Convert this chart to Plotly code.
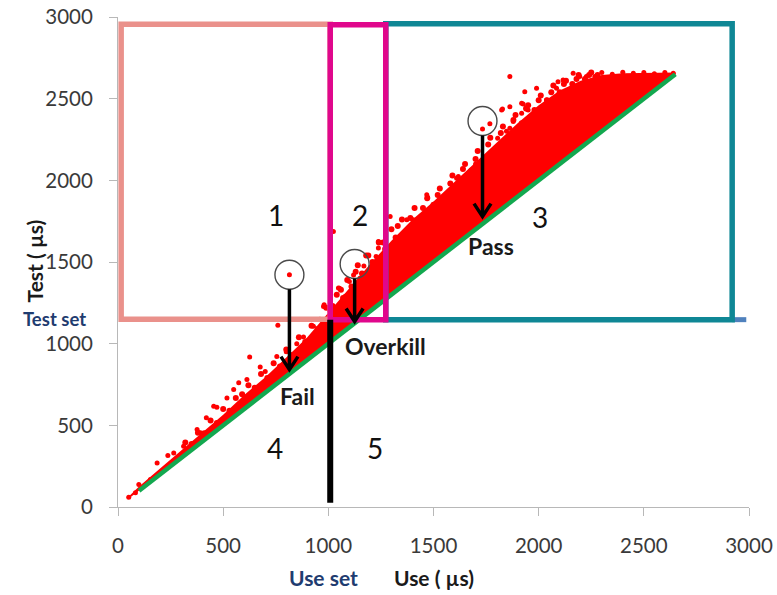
import plotly.graph_objects as go

# ---- data -----------------------------------------------------------------
# Upper edge of the dense part of the measurement cloud (use, test) in µs
band_use = [50, 100, 200, 300, 400, 500, 600, 700, 800, 900, 1000, 1100, 1200,
            1300, 1400, 1500, 1600, 1700, 1800, 1900, 2000, 2100, 2200, 2300,
            2400, 2650]
band_test = [62, 125, 235, 345, 450, 565, 685, 795, 915, 1040, 1190, 1340, 1490,
             1630, 1760, 1870, 1990, 2110, 2230, 2350, 2460, 2550, 2610, 2645,
             2655, 2660]

# Ragged edge of the dense part
edge_use = [320, 350, 380, 410, 440, 470, 500, 530, 560, 590, 620, 650, 680,
            710, 740, 770, 800, 830, 860, 890, 920, 950, 990, 1010, 1040, 1070,
            1090, 1110, 1140, 1160, 1180, 1210, 1240, 1270, 1300, 1320, 1350,
            1380, 1410, 1440, 1470, 1500, 1530, 1560, 1590, 1620, 1650, 1680,
            1710, 1740, 1770, 1800, 1830, 1860, 1890, 1920, 1950, 1980, 2010,
            2040, 2070, 2100, 2130, 2160, 2190, 2220, 2250, 2280,
            1020, 1060, 1130, 1190, 1260, 1330, 1390, 1450, 1520, 1580, 1640,
            1700, 1760, 1820, 1880, 1940, 2000, 2060, 2120, 2180, 2240]
edge_test = [395, 385, 455, 452, 530, 515, 600, 590, 668, 690, 745, 730, 815,
             790, 880, 860, 965, 930, 1040, 1010, 1110, 1090, 1220, 1200, 1300,
             1280, 1390, 1350, 1480, 1430, 1540, 1500, 1620, 1580, 1700, 1650,
             1760, 1700, 1830, 1770, 1890, 1850, 1950, 1900, 2030, 1970, 2100,
             2060, 2180, 2120, 2260, 2200, 2330, 2270, 2400, 2350, 2460, 2430,
             2520, 2490, 2580, 2540, 2610, 2590, 2645, 2620, 2660, 2645,
             1230, 1330, 1440, 1540, 1620, 1720, 1770, 1830, 1910, 1980, 2070,
             2130, 2220, 2290, 2370, 2440, 2490, 2540, 2590, 2620, 2645]

# Individual measurements scattered around the dense part
pts_use = [51, 83, 99, 154, 186, 237, 265, 312, 376, 392, 420, 455, 470, 518,
           550, 574, 613, 626, 676, 700, 755, 760, 800, 815, 850, 882, 929, 960,
           977, 980,
           1024, 1048, 1053, 1080, 1100, 1120, 1150, 1169, 1191, 1207, 1227,
           1238, 1238, 1260, 1294, 1325, 1341,
           1373, 1404, 1428, 1463, 1468, 1472, 1515, 1540, 1594, 1610, 1618,
           1641, 1700, 1733, 1768, 1776, 1805, 1824, 1828, 1847, 1863, 1863,
           1863, 1879, 1919, 1919, 1926, 1934, 1942, 1950, 1990, 2006, 2037,
           2085, 2092, 2116, 2164, 2195, 2227, 2267, 2300, 2350, 2400, 2450,
           2500, 2550, 2600, 2640]
pts_test = [60, 87, 138, 168, 270, 315, 331, 372, 474, 454, 546, 617, 610, 668,
            719, 760, 780, 918, 857, 830, 922, 1112, 950, 1422, 1000, 1041, 1106,
            1150, 1228, 1239,
            1687, 1341, 1340, 1290, 1380, 1420, 1400, 1476, 1432, 1473, 1534,
            1585, 1626, 1500, 1779, 1626, 1656,
            1758, 1758, 1728, 1600, 1911, 1897, 1840, 1800, 1911, 2013, 2023,
            1952, 2100, 2315, 2346, 2146, 2258, 2431, 2437, 2300, 2451, 2319,
            2635, 2360, 2472, 2411, 2468, 2543, 2437, 2431, 2564, 2401, 2492,
            2564, 2604, 2615, 2656, 2635, 2635, 2635, 2660, 2650, 2662, 2655,
            2660, 2652, 2660, 2655]

# Test = Use reference diagonal
diag_use = [100, 2650]
diag_test = [100, 2650]

# Region boxes (x0, x1, y0, y1) and colours
boxes = [
    (15, 1009, 1150, 2955, "#ea918b"),   # region 1
    (1273, 2920, 1147, 2958, "#0f8795"),  # region 3
    (1009, 1273, 1147, 2952, "#e0078c"),  # region 2
]
use_set = 1009
test_set = 1147

region_labels = ["1", "2", "3", "4", "5"]
region_x = [752, 1151, 2006, 748, 1222]
region_y = [1789, 1789, 1776, 364, 364]

# Highlighted samples: circle centre and arrow end
call_names = ["Fail", "Overkill", "Pass"]
call_x = [815, 1125, 1733]
call_y = [1422, 1488, 2363]
call_tip = [841, 1136, 1778]
call_text_x = [854, 1270, 1771]
call_text_y = [682, 985, 1596]

ticks = [0, 500, 1000, 1500, 2000, 2500, 3000]

# ---- figure ---------------------------------------------------------------
fig = go.Figure()

band_x = band_use + band_use[::-1]
band_y = band_test + band_use[::-1]
fig.add_trace(go.Scatter(x=band_x, y=band_y, fill="toself", mode="lines",
                         line=dict(width=0, color="#ff0000"),
                         fillcolor="#ff0000", hoverinfo="skip"))
fig.add_trace(go.Scatter(x=edge_use, y=edge_test, mode="markers",
                         marker=dict(color="#ff0000", size=6, line=dict(width=0))))
fig.add_trace(go.Scatter(x=pts_use, y=pts_test, mode="markers",
                         marker=dict(color="#ff0000", size=5, line=dict(width=0))))
fig.add_trace(go.Scatter(x=diag_use, y=diag_test, mode="lines",
                         line=dict(color="#13a84f", width=4.5)))

shapes = []
# small blue stub on the lower right corner of region 3
shapes.append(dict(type="line", xref="x", yref="y", x0=2920, x1=2987,
                   y0=test_set, y1=test_set, line=dict(color="#4f81bd", width=5),
                   layer="above"))
for x0, x1, y0, y1, col in boxes:
    shapes.append(dict(type="rect", xref="x", yref="y", x0=x0, x1=x1, y0=y0, y1=y1,
                       line=dict(color=col, width=5.5), layer="above"))
shapes.append(dict(type="line", xref="x", yref="y", x0=use_set, x1=use_set,
                   y0=26, y1=test_set, line=dict(color="#000000", width=6),
                   layer="above"))

# circles (radius ~14.5 px) and chevron arrows
rx, ry = 14.5 / 0.21067, 14.5 / 0.1635
ax_dx, ax_dy = 8.5 / 0.21067, 13 / 0.1635
for cx, cy, tip in zip(call_x, call_y, call_tip):
    shapes.append(dict(type="circle", xref="x", yref="y",
                       x0=cx - rx, x1=cx + rx, y0=cy - ry, y1=cy + ry,
                       line=dict(color="#4a4a4a", width=1.4), layer="above"))
    top = cy - ry
    path = (f"M {cx},{top} L {cx},{tip} "
            f"M {cx - ax_dx},{tip + ax_dy} L {cx},{tip} L {cx + ax_dx},{tip + ax_dy}")
    shapes.append(dict(type="path", xref="x", yref="y", path=path,
                       line=dict(color="#000000", width=3.5), layer="above"))

annotations = []
for t, x, y in zip(region_labels, region_x, region_y):
    annotations.append(dict(text=t, x=x, y=y, xref="x", yref="y", showarrow=False,
                            xanchor="center", yanchor="middle",
                            font=dict(family="Lato", size=28, color="#111111")))
for t, x, y in zip(call_names, call_text_x, call_text_y):
    annotations.append(dict(text=f"<b>{t}</b>", x=x, y=y, xref="x", yref="y",
                            showarrow=False, xanchor="center", yanchor="middle",
                            font=dict(family="Lato", size=23, color="#1a1a1a")))

# axis titles and set markers outside the plot area (paper coordinates)
outside = dict(xref="paper", yref="paper", showarrow=False,
               xanchor="center", yanchor="middle")
annotations += [
    dict(text="<b>Test set</b>", x=-0.1005, y=0.3835, **outside,
         font=dict(family="Lato", size=18.5, color="#1f3c70")),
    dict(text="<b>Use set</b>", x=0.325, y=-0.1437, **outside,
         font=dict(family="Lato", size=21, color="#1f3c70")),
    dict(text="<b>Use ( µs)</b>", x=0.5008, y=-0.1437, **outside,
         font=dict(family="Lato", size=21, color="#1a1a1a")),
    dict(text="<b>Test ( µs)</b>", x=-0.1321, y=0.5025, **outside, textangle=-90,
         font=dict(family="Lato", size=21, color="#1a1a1a")),
]

axis_common = dict(range=[0, 3000], tickvals=ticks, showgrid=False, zeroline=False,
                   showline=True, linecolor="#b8b8b8", linewidth=1,
                   ticks="outside", ticklen=8, tickcolor="#b8b8b8", automargin=False,
                   tickfont=dict(family="Lato", size=20.5, color="#3a3a3a"))

fig.update_layout(
    width=777, height=595,
    margin=dict(l=117.5, r=27.5, t=17, b=87.5),
    paper_bgcolor="white", plot_bgcolor="white",
    showlegend=False,
    xaxis=dict(**axis_common, ticklabelstandoff=12),
    yaxis=dict(**axis_common, ticklabelstandoff=12),
    shapes=shapes, annotations=annotations,
)

fig.write_html("out.html")
